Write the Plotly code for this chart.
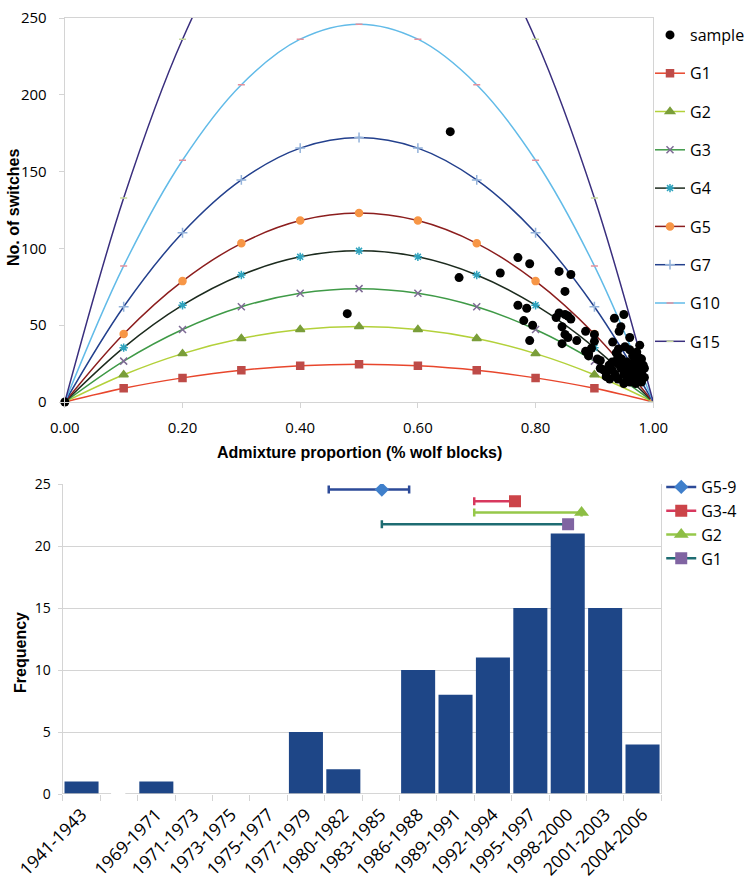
import plotly.graph_objects as go

# ---------------- Top chart data ----------------
admix = [0.0, 0.1, 0.2, 0.3, 0.4, 0.5, 0.6, 0.7, 0.8, 0.9, 1.0]
g_names = ["G1", "G2", "G3", "G4", "G5", "G7", "G10", "G15"]
g1 = [0, 8.9, 15.7, 20.7, 23.6, 24.6, 23.6, 20.7, 15.7, 8.9, 0]
g2 = [0, 17.7, 31.5, 41.3, 47.2, 49.2, 47.2, 41.3, 31.5, 17.7, 0]
g3 = [0, 26.6, 47.2, 62.0, 70.8, 73.8, 70.8, 62.0, 47.2, 26.6, 0]
g4 = [0, 35.4, 63.0, 82.7, 94.5, 98.4, 94.5, 82.7, 63.0, 35.4, 0]
g5 = [0, 44.3, 78.7, 103.3, 118.1, 123.0, 118.1, 103.3, 78.7, 44.3, 0]
g7 = [0, 62.0, 110.2, 144.6, 165.3, 172.2, 165.3, 144.6, 110.2, 62.0, 0]
g10 = [0, 88.6, 157.4, 206.6, 236.2, 246.0, 236.2, 206.6, 157.4, 88.6, 0]
g15 = [0, 132.8, 236.2, 310.0, 354.2, 369.0, 354.2, 310.0, 236.2, 132.8, 0]

sample_x = [0.00, 0.48, 0.655, 0.67, 0.74, 0.77, 0.79, 0.77, 0.785, 0.78, 0.795, 0.79,
            0.84, 0.86, 0.85, 0.835, 0.84, 0.85, 0.855, 0.86, 0.845, 0.85, 0.855, 0.845,
            0.87, 0.885, 0.90, 0.885, 0.89, 0.895, 0.89, 0.905, 0.91, 0.90,
            0.95, 0.934, 0.945, 0.942, 0.96, 0.931, 0.977, 0.941, 0.937, 0.96, 0.972,
            0.938, 0.946, 0.955, 0.983, 0.915, 0.92, 0.926,
            0.93, 0.94, 0.95, 0.96, 0.97, 0.98,
            0.93, 0.945, 0.955, 0.965, 0.975, 0.985,
            0.935, 0.95, 0.96, 0.97, 0.98,
            0.94, 0.955, 0.965, 0.975, 0.985,
            0.95, 0.96, 0.97, 0.98,
            0.94, 0.965, 0.975, 0.91, 0.925, 0.92, 0.952, 0.968]
sample_y = [0, 57.5, 176, 81, 84, 94, 90, 63, 61, 53, 50, 40,
            85, 83, 72, 55, 58, 57, 56, 54, 49, 44, 42, 38,
            40, 46, 44, 33, 31.5, 35, 30, 28, 27, 39.5,
            57, 54.5, 49, 46, 42, 39, 37, 34.5, 32, 34, 32.5,
            27, 28, 26, 24, 21, 16.5, 15,
            26, 25, 24, 25, 26, 28,
            21, 22, 21, 22, 23, 22,
            18, 18, 19, 18, 19,
            15, 15, 16, 15, 16,
            12, 13, 12, 13,
            30, 30, 29, 22, 24, 19, 36, 20]

# ---------------- Bottom chart data ----------------
periods = ["1941-1943", " ", "1969-1971", "1971-1973", "1973-1975", "1975-1977",
           "1977-1979", "1980-1982", "1983-1985", "1986-1988", "1989-1991",
           "1992-1994", "1995-1997", "1998-2000", "2001-2003", "2004-2006"]
frequency = [1, None, 1, 0, 0, 0, 5, 2, 0, 10, 8, 11, 15, 21, 15, 4]

grp_names = ["G5-9", "G3-4", "G2", "G1"]
grp_mid = [8.03, 11.59, 13.37, 13.01]      # position in period index units
grp_lo = [6.61, 10.50, 10.50, 8.03]
grp_hi = [8.76, 11.59, 13.37, 13.01]
grp_y = [24.55, 23.6, 22.7, 21.75]

# ---------------- Styles ----------------
g_styles = [
    dict(line="#E8462C", mcol="#BE4B48", sym="square", size=7),
    dict(line="#B3D13A", mcol="#7A9E3A", sym="triangle-up", size=8),
    dict(line="#3F9A47", mcol="#7E6B95", sym="x-thin-open", size=7),
    dict(line="#1C2B1E", mcol="#2EA3BE", sym="asterisk-open", size=7),
    dict(line="#8C1E1E", mcol="#F79646", sym="circle", size=7),
    dict(line="#23408D", mcol="#93B2DA", sym="cross-thin-open", size=7),
    dict(line="#62BBE8", mcol="#E4909C", sym="line-ew-open", size=5),
    dict(line="#3A2F7E", mcol="#C4D79B", sym="line-ew-open", size=5),
]
grp_styles = [
    dict(line="#2C4A98", mcol="#3F7FCB", sym="diamond", size=11),
    dict(line="#D8385E", mcol="#CC4449", sym="square", size=12),
    dict(line="#96C84A", mcol="#8DBE45", sym="triangle-up", size=13),
    dict(line="#1E6C72", mcol="#8064A2", sym="square", size=12),
]

TICKF = "Open Sans"
TITLEF = "Liberation Sans"
GRID = "#D4D4D4"
W, H = 750, 885

fig = go.Figure()

g_series = [g1, g2, g3, g4, g5, g7, g10, g15]
for i, (name, ys, st) in enumerate(zip(g_names, g_series, g_styles)):
    fig.add_trace(go.Scatter(
        x=admix, y=ys, name=name, mode="lines+markers",
        line=dict(color=st["line"], width=1.5, shape="spline", smoothing=1.0),
        marker=dict(color=st["mcol"], symbol=st["sym"], size=st["size"],
                    line=dict(color=st["mcol"], width=1.5)),
        xaxis="x", yaxis="y", legend="legend", legendgroup=name, legendrank=i + 2,
    ))

fig.add_trace(go.Scatter(
    x=sample_x, y=sample_y, name="sample", mode="markers",
    marker=dict(color="black", size=9),
    cliponaxis=False, xaxis="x", yaxis="y", legend="legend",
    legendgroup="sample", legendrank=1,
))

fig.add_trace(go.Bar(
    x=periods, y=frequency, marker=dict(color="#1E4687", line=dict(width=0)),
    showlegend=False, xaxis="x2", yaxis="y2",
))

for i, (name, st) in enumerate(zip(grp_names, grp_styles)):
    fig.add_trace(go.Scatter(
        x=[grp_mid[i]], y=[grp_y[i]], name=name, mode="lines+markers",
        line=dict(color=st["line"], width=2.5),
        marker=dict(color=st["mcol"], symbol=st["sym"], size=st["size"]),
        error_x=dict(type="data", symmetric=False,
                     array=[grp_hi[i] - grp_mid[i]],
                     arrayminus=[grp_mid[i] - grp_lo[i]],
                     color=st["line"], thickness=2.5, width=4),
        xaxis="x3", yaxis="y2", legend="legend2",
    ))

# broken category axis line
fig.add_shape(type="line", xref="x2", yref="y2", x0=-0.5, x1=0.79, y0=0, y1=0,
              line=dict(color="#C8C8C8", width=1.3))
fig.add_shape(type="line", xref="x2", yref="y2", x0=1.17, x1=15.5, y0=0, y1=0,
              line=dict(color="#C8C8C8", width=1.3))

top_x = [65 / W, 655 / W]
top_y = [1 - 402 / H, 1 - 18 / H]
bot_x = [63 / W, 663 / W]
bot_y = [1 - 794 / H, 1 - 484 / H]

title_font = dict(family=TITLEF, size=16, color="black", weight="bold")
fig.add_annotation(text="No. of switches", xref="paper", yref="paper",
                   x=14 / W, y=1 - 207 / H, textangle=-90, showarrow=False,
                   xanchor="center", yanchor="middle", font=title_font)
fig.add_annotation(text="Admixture proportion (% wolf blocks)", xref="paper", yref="paper",
                   x=360 / W, y=1 - 452 / H, showarrow=False,
                   xanchor="center", yanchor="middle", font=title_font)
fig.add_annotation(text="Frequency", xref="paper", yref="paper",
                   x=20 / W, y=1 - 652 / H, textangle=-90, showarrow=False,
                   xanchor="center", yanchor="middle", font=title_font)

fig.update_layout(
    width=W, height=H,
    margin=dict(l=0, r=0, t=0, b=0),
    paper_bgcolor="white", plot_bgcolor="white",
    font=dict(family=TICKF, size=15, color="black"),
    xaxis=dict(domain=top_x, anchor="y", range=[0, 1], tickvals=[0, 0.2, 0.4, 0.6, 0.8, 1.0],
               tickformat=".2f", showgrid=False, zeroline=False, automargin=False,
               showline=True, mirror=True, linecolor=GRID, linewidth=1.3,
               ticks="outside", ticklen=5, tickcolor=GRID, ticklabelstandoff=7,
               tickfont=dict(size=15)),
    yaxis=dict(domain=top_y, anchor="x", range=[0, 250], tickvals=[0, 50, 100, 150, 200, 250],
               showgrid=False, zeroline=False, automargin=False,
               showline=True, mirror=True, linecolor=GRID, linewidth=1.3,
               ticks="outside", ticklen=5, tickcolor=GRID, ticklabelstandoff=9,
               tickfont=dict(size=15)),
    xaxis2=dict(domain=bot_x, anchor="y2", type="category", range=[-0.5, 15.5],
                showgrid=False, zeroline=False, showline=False, automargin=False,
                ticks="outside", ticklen=6, tickcolor=GRID, tickson="boundaries",
                tickangle=-45, tickfont=dict(size=17.5), ticklabelstandoff=6),
    xaxis3=dict(overlaying="x2", anchor="y2", range=[-0.5, 15.5], visible=False),
    yaxis2=dict(domain=bot_y, anchor="x2", range=[0, 25], tickvals=[0, 5, 10, 15, 20, 25],
                showgrid=True, gridcolor=GRID, gridwidth=1.3, zeroline=False, automargin=False,
                showline=True, mirror=True, linecolor=GRID, linewidth=1.3,
                ticks="outside", ticklen=4, tickcolor=GRID, ticklabelstandoff=4,
                tickfont=dict(size=14)),
    legend=dict(x=652 / W, y=1 - 18 / H, xanchor="left", yanchor="top",
                font=dict(size=16), tracegroupgap=14.5, bgcolor="rgba(0,0,0,0)"),
    legend2=dict(x=663 / W, y=1 - 470 / H, xanchor="left", yanchor="top",
                 font=dict(size=16), tracegroupgap=0, bgcolor="rgba(0,0,0,0)"),
    bargap=0.09,
)

fig.write_html("out.html", config={"displayModeBar": False},
               post_script="document.body.style.margin='0';document.body.style.padding='0';")
